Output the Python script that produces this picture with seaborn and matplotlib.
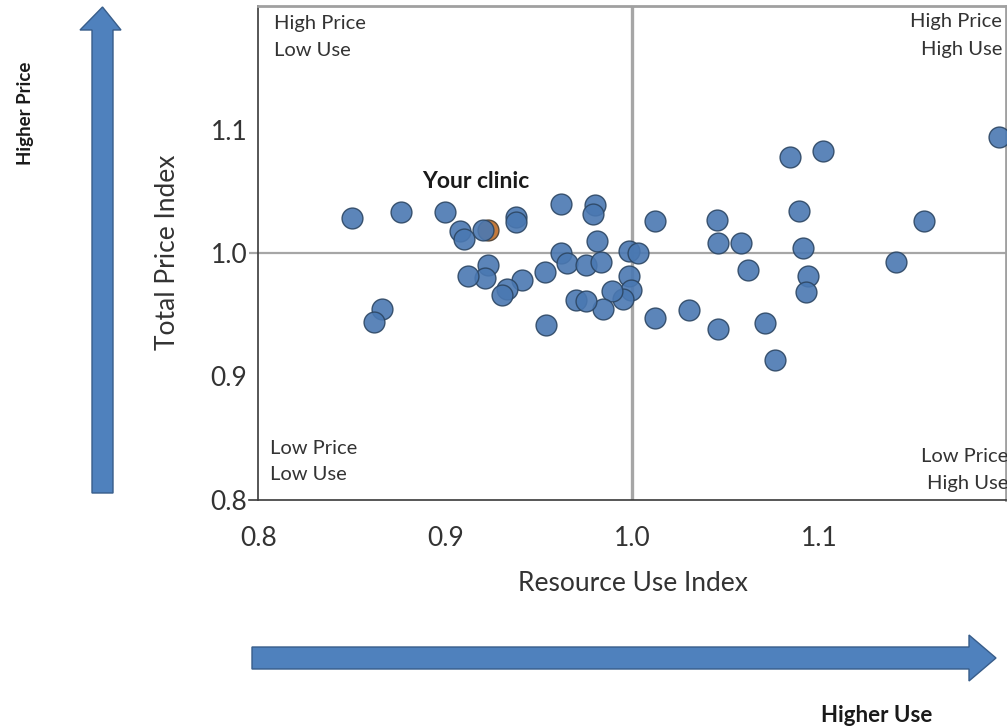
import matplotlib
matplotlib.use('Agg')
import matplotlib.pyplot as plt
from matplotlib.patches import Polygon
import pandas as pd
import seaborn as sns

# values
resource_use = [0.850, 0.876, 0.900, 0.908, 0.910, 0.920, 0.938, 0.938, 0.962, 0.980,
                0.979, 0.981, 0.962, 0.965, 0.975, 0.983, 0.998, 1.003, 0.998, 0.999,
                0.995, 0.989, 0.984, 0.970, 0.975, 0.953, 0.941, 0.933, 0.930, 0.923,
                0.921, 0.912, 0.866, 0.862, 0.954, 1.012, 1.012, 1.196, 1.084, 1.102,
                1.089, 1.045, 1.156, 1.046, 1.058, 1.091, 1.141, 1.062, 1.094, 1.093,
                1.030, 1.046, 1.071, 1.076]
total_price = [1.028, 1.033, 1.033, 1.018, 1.011, 1.019, 1.029, 1.025, 1.040, 1.039,
               1.032, 1.010, 1.000, 0.992, 0.990, 0.993, 1.002, 1.000, 0.981, 0.970,
               0.963, 0.969, 0.955, 0.962, 0.961, 0.985, 0.978, 0.971, 0.966, 0.990,
               0.980, 0.981, 0.955, 0.944, 0.942, 1.026, 0.947, 1.094, 1.078, 1.083,
               1.034, 1.027, 1.026, 1.008, 1.008, 1.004, 0.993, 0.986, 0.981, 0.968,
               0.954, 0.938, 0.943, 0.913]
clinic_use = [0.923]
clinic_price = [1.019]

ticks = [0.8, 0.9, 1.0, 1.1]
tick_labels = ['0.8', '0.9', '1.0', '1.1']

sns.set_style('white')
plt.rcParams['font.family'] = ['Lato', 'DejaVu Sans']

fig = plt.figure(figsize=(10.07, 7.28), dpi=100)
ax = fig.add_axes([0.2473, 0.3137, 0.7522, 0.6775])

# reference lines at 1.0
ax.axvline(1.0, color='#a6a6a6', lw=2.4, zorder=1)
ax.axhline(1.0, color='#a6a6a6', lw=1.6, zorder=1)

clinic = pd.DataFrame({'use': clinic_use, 'price': clinic_price})
sns.scatterplot(data=clinic, x='use', y='price', ax=ax, s=225, color='#c47a3c',
                edgecolor='#5a4a3a', linewidth=1, zorder=2)
df = pd.DataFrame({'use': resource_use, 'price': total_price})
sns.scatterplot(data=df, x='use', y='price', ax=ax, s=225, color='#4a78b2',
                edgecolor='#2c4663', linewidth=1, alpha=0.9, zorder=3)

ax.set_xlim(0.795, 1.2)
ax.set_ylim(0.8, 1.2)
ax.set_xticks(ticks, tick_labels)
ax.set_yticks(ticks, tick_labels)
ax.spines['left'].set_position(('data', 0.8))
for side in ['left', 'bottom']:
    ax.spines[side].set_color('#3a3a3a')
    ax.spines[side].set_linewidth(1.2)
for side in ['top', 'right']:
    ax.spines[side].set_color('#a0a0a0')
    ax.spines[side].set_linewidth(2)
ax.spines['top'].set_bounds(0.8, 1.2)
ax.tick_params(direction='out', length=6, width=1.2, color='#3a3a3a',
               labelsize=19, labelcolor='#333333')
ax.tick_params(axis='x', pad=13)
ax.tick_params(axis='y', pad=2)

ax.set_xlabel('Resource Use Index', fontsize=19, color='#333333')
ax.set_ylabel('Total Price Index', fontsize=19, color='#333333')
ax.xaxis.set_label_coords(0.507, -0.145)
ax.yaxis.set_label_coords(-0.091, 0.502)

# overlay in pixel coordinates for arrows and notes
ov = fig.add_axes([0, 0, 1, 1], zorder=5)
ov.set_xlim(0, 1007)
ov.set_ylim(728, 0)
ov.axis('off')

arrow_kw = dict(closed=True, facecolor='#4f81bd', edgecolor='#385d8a', lw=1)
ov.add_patch(Polygon([(92, 493), (113, 493), (113, 30), (121, 30), (102.5, 7),
                      (80, 30), (92, 30)], **arrow_kw))
ov.add_patch(Polygon([(252, 647), (969, 647), (969, 635), (996, 658), (969, 681),
                      (969, 669), (252, 669)], **arrow_kw))

ov.text(26, 113, 'Higher Price', rotation=90, ha='center', va='center',
        fontsize=13.5, fontweight='bold', color='#1a1a1a')
ov.text(877, 716, 'Higher Use', ha='center', va='center',
        fontsize=16, fontweight='bold', color='#1a1a1a')
ov.text(422, 181, 'Your clinic', ha='left', va='center',
        fontsize=16.5, fontweight='bold', color='#1a1a1a')

note_kw = dict(fontsize=14.5, color='#333333', va='center')
ov.text(274, 23, 'High Price', ha='left', **note_kw)
ov.text(274, 51, 'Low Use', ha='left', **note_kw)
ov.text(1002, 22, 'High Price', ha='right', **note_kw)
ov.text(1002, 49, 'High Use', ha='right', **note_kw)
ov.text(270, 448, 'Low Price', ha='left', **note_kw)
ov.text(270, 474, 'Low Use', ha='left', **note_kw)
ov.text(1008, 456, 'Low Price', ha='right', **note_kw)
ov.text(1008, 483, 'High Use', ha='right', **note_kw)

fig.savefig('out.png', dpi=100)
